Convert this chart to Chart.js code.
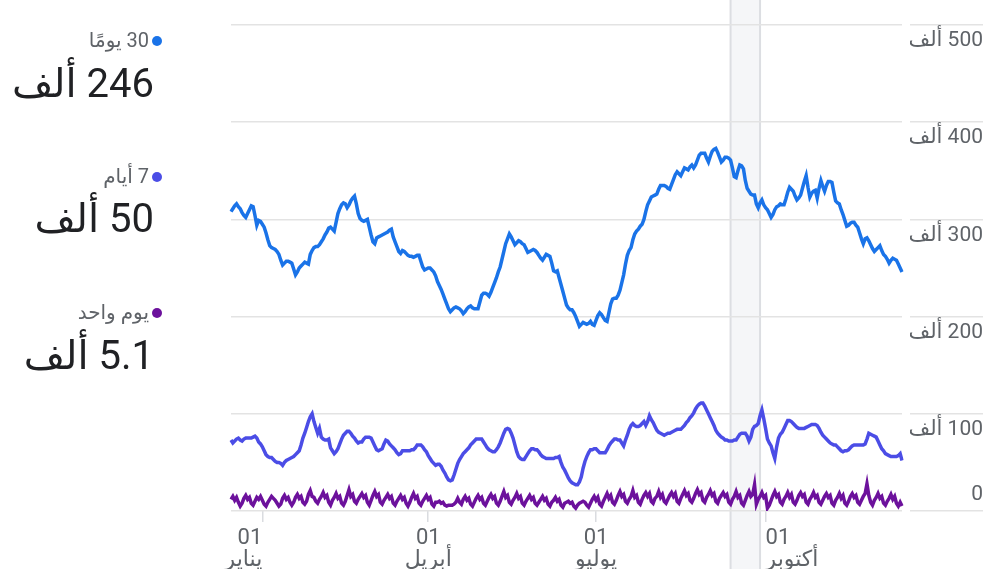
<!DOCTYPE html>
<html lang="ar">
<head>
<meta charset="utf-8">
<script src="https://cdn.jsdelivr.net/npm/chart.js@4.4.1/dist/chart.umd.min.js"></script>
<style>
html,body{margin:0;padding:0;background:#fff;overflow:hidden;}
#wrap{position:relative;width:983px;height:569px;}
#c{position:absolute;left:0;top:0;}
.leg{position:absolute;left:0;text-align:right;direction:rtl;font-family:Roboto,'DejaVu Sans',sans-serif;white-space:nowrap;}
.lab{width:149px;font-size:20px;color:#5f6368;line-height:20px;}
.val{width:154px;font-size:40px;color:#202124;line-height:44px;}
.dot{position:absolute;width:10px;height:10px;border-radius:50%;}
</style>
</head>
<body>
<div id="wrap">
<canvas id="c" width="983" height="569" dir="rtl"></canvas>
<div class="dot" style="left:152px;top:36px;background:#1a73e8"></div>
<div class="leg lab" style="top:30px">30 يومًا</div>
<div class="leg val" style="top:62px">246 ألف</div>
<div class="dot" style="left:152px;top:172px;background:#4b4de6"></div>
<div class="leg lab" style="top:166px">7 أيام</div>
<div class="leg val" style="top:197px">50 ألف</div>
<div class="dot" style="left:152px;top:308px;background:#6c119c"></div>
<div class="leg lab" style="top:302px">يوم واحد</div>
<div class="leg val" style="top:334px">5.1 ألف</div>
</div>
<script>
// values in thousands of users, one per day from 2022-12-15
const startDay = '2022-12-15';
const users30 = [
308,311,314,316,313,311,307,304,302,306,
310,314,313,304,294,299,298,295,292,286,
279,273,271,270,269,267,264,258,253,255,
257,257,256,255,249,243,246,250,252,254,
256,255,254,264,268,271,272,272,274,277,
280,284,287,291,292,290,288,297,306,311,
315,317,316,312,315,319,322,324,316,306,
301,299,298,299,300,292,284,277,275,281,
282,283,284,285,286,287,289,290,282,277,
272,267,265,268,267,265,263,262,262,261,
262,263,263,257,251,248,249,250,250,248,
246,242,236,232,228,223,218,213,208,205,
207,209,210,209,208,206,203,205,208,210,
211,209,208,208,208,215,222,224,224,223,
221,225,230,235,240,246,251,259,267,275,
280,285,282,278,274,276,278,277,275,274,
270,266,267,268,269,268,266,263,260,258,
261,264,263,262,255,247,246,247,240,233,
226,219,212,209,207,207,204,200,195,190,
192,194,193,192,193,195,192,191,196,201,
204,202,199,196,195,204,213,218,219,219,
222,227,235,243,254,263,268,271,279,285,
288,290,293,295,300,308,315,319,323,324,
325,326,331,335,335,335,334,332,331,336,
341,346,349,347,345,349,353,352,351,354,
356,353,356,361,366,368,368,368,363,359,
365,370,372,373,369,364,359,361,364,364,
363,361,353,344,343,350,356,355,352,340,
332,329,326,325,325,316,312,317,320,315,
312,310,306,302,305,310,313,314,316,315,
315,321,328,333,331,329,324,320,322,325,
332,339,345,333,323,327,329,330,322,332,
340,334,329,335,339,339,338,328,319,317,
316,310,305,299,293,294,296,297,297,294,
292,286,280,275,280,281,278,274,270,267,
269,271,273,268,264,262,259,255,258,260,
259,258,254,250,246
];
const users7 = [
73,70,72,74,75,73,72,74,75,75,
75,75,76,77,75,71,69,66,62,58,
56,55,55,53,51,50,50,49,47,50,
52,53,54,55,56,58,60,62,68,75,
80,86,92,97,100,92,86,80,85,76,
74,73,73,74,65,62,59,61,64,69,
74,78,80,82,82,80,77,75,72,70,
71,71,74,76,76,76,75,71,67,63,
62,63,64,69,73,72,69,67,65,63,
60,58,59,62,62,62,62,62,63,63,
65,68,68,68,66,63,61,57,54,51,
49,47,48,48,46,42,39,35,32,31,
32,37,43,49,53,56,59,61,63,65,
68,70,72,74,74,74,74,71,68,65,
63,62,61,61,63,66,70,75,80,84,
85,84,80,75,68,61,56,54,53,53,
56,59,62,64,64,63,63,61,58,56,
55,54,54,54,54,54,55,55,56,50,
45,42,38,34,31,29,28,27,27,30,
35,44,51,56,60,63,63,64,64,62,
60,60,60,60,63,67,70,72,74,74,
73,73,70,67,73,78,84,88,90,88,
87,87,88,90,92,88,92,98,94,91,
87,83,81,80,79,78,79,80,80,81,
82,83,84,84,84,86,88,91,93,96,
98,101,105,108,110,111,111,108,104,100,
96,92,88,83,80,78,76,75,73,73,
72,72,72,73,73,76,79,80,80,80,
77,72,76,84,87,88,90,98,104,95,
85,74,70,67,60,54,66,75,79,81,
85,89,93,93,92,90,88,86,85,85,
85,85,86,87,88,89,89,89,88,85,
81,78,76,74,72,70,69,68,68,66,
64,62,61,62,62,63,65,67,68,68,
68,68,68,68,69,74,80,79,78,77,
76,72,68,64,62,59,58,57,56,56,
56,56,57,59,52
];
const users1 = [
12,15,11,14,9,5,8, 13,16,12,14,8,6,10, 14,12,15,11,7,5,9, 12,15,13,11,8,5,7,
13,16,12,14,9,6,9, 14,17,13,15,9,7,10, 17,21,15,14,10,8,12, 15,19,14,16,9,6,11,
14,18,13,15,8,6,10, 16,22,15,17,10,8,12, 15,18,14,16,9,6,11, 16,20,15,17,9,7,11,
14,17,13,15,8,6,10, 13,16,12,14,8,5,9, 14,18,13,15,8,6,10, 13,16,12,14,7,5,9,
9,10,8,9,6,5,6, 6,6,7,9,13,9,7, 12,15,11,13,7,5,9, 13,16,12,14,8,6,10,
14,17,13,15,8,6,10, 15,20,14,16,9,7,11, 14,18,13,15,8,6,10, 13,16,12,14,8,6,9,
12,15,11,13,7,5,9, 11,14,10,12,6,4,8, 9,10,8,9,5,3,6, 8,9,10,9,6,4,8,
12,15,11,14,7,5,10, 14,18,13,16,9,7,11, 16,20,15,17,10,8,12, 15,21,14,16,9,7,12,
16,19,15,18,10,8,13, 15,20,14,17,10,8,12, 16,19,15,18,10,8,13, 17,21,16,18,11,9,13,
18,22,17,19,11,9,14, 17,21,16,18,10,8,13, 16,19,15,17,9,7,12, 15,20,14,16,8,6,11,
16,20,15,17,27,7,12, 15,19,14,16,3,6,11, 16,20,15,17,9,7,12, 15,19,14,17,9,7,11,
16,19,15,17,9,7,12, 15,19,14,16,9,7,11, 15,18,14,16,8,6,11, 14,18,13,16,8,6,10,
15,18,14,16,9,7,11, 15,18,28,16,9,6,11, 14,18,13,15,8,6,10, 13,17,12,15,8,5,9,
5.1
];
const tickDates = ['2023-01-01','2023-04-01','2023-07-01','2023-10-01'];
const tickDay = ['01','01','01','01'];
const tickMonth = ['يناير','أبريل','يوليو','أكتوبر'];
const yUnit = 'ألف';
const bandStart = '2023-09-12';
const bandEnd = '2023-09-28';

const days = [];
const t0 = Date.parse(startDay + 'T00:00:00Z');
for (let i = 0; i < users30.length; i++) days.push(new Date(t0 + i * 86400000).toISOString().slice(0, 10));

Chart.defaults.font.family = "Roboto, 'DejaVu Sans', sans-serif";

const bandPlugin = {
  id: 'band',
  beforeDraw(chart) {
    const xs = chart.scales.x, ctx = chart.ctx;
    const a = xs.getPixelForValue(days.indexOf(bandStart));
    const b = xs.getPixelForValue(days.indexOf(bandEnd));
    ctx.save();
    ctx.fillStyle = '#f5f6f8';
    ctx.fillRect(a, 0, b - a, chart.height);
    ctx.strokeStyle = '#dcdee2';
    ctx.lineWidth = 2;
    ctx.beginPath();
    ctx.moveTo(a, 0); ctx.lineTo(a, chart.height);
    ctx.moveTo(b, 0); ctx.lineTo(b, chart.height);
    ctx.stroke();
    ctx.restore();
    const items = xs.getLabelItems();
    if (items.length) {
      items[0].options.textAlign = 'right';
      items[items.length - 1].options.textAlign = 'left';
    }
  }
};

new Chart(document.getElementById('c'), {
  type: 'line',
  data: {
    labels: days,
    datasets: [
      {data: users30, borderColor: '#1a73e8', borderWidth: 3.5, pointRadius: 0, tension: 0, yAxisID: 'y'},
      {data: users7, borderColor: '#4b4de6', borderWidth: 3.5, pointRadius: 0, tension: 0, yAxisID: 'y'},
      {data: users1, borderColor: '#6c119c', borderWidth: 3.5, pointRadius: 0, tension: 0, yAxisID: 'y'}
    ]
  },
  options: {
    responsive: false,
    animation: false,
    devicePixelRatio: 1,
    layout: {padding: {left: 231, top: 25, right: 0, bottom: 0}},
    plugins: {legend: {display: false}, tooltip: {enabled: false}},
    scales: {
      x: {
        type: 'category',
        offset: false,
        afterBuildTicks: s => { s.ticks = tickDates.map(d => ({value: days.indexOf(d)})); },
        afterFit: s => { s.height = 58; s.paddingLeft = 0; s.paddingRight = 0; },
        grid: {drawOnChartArea: false, drawTicks: true, tickLength: 11, color: '#dadce0', lineWidth: 1.5},
        border: {display: false},
        ticks: {autoSkip: false, maxRotation: 0, minRotation: 0, padding: 5.5, color: '#5f6368',
          font: {size: 22, lineHeight: 1},
          callback: (v, i) => [tickDay[i], tickMonth[i]]}
      },
      ySpace: {
        type: 'linear', position: 'right', weight: 0,
        grid: {display: false}, border: {display: false}, ticks: {display: false},
        afterFit: s => { s.width = 8; s.paddingTop = 0; s.paddingBottom = 0; }
      },
      y: {
        type: 'linear', position: 'right', weight: 1, min: 0, max: 500,
        afterFit: s => { s.width = 73; s.paddingTop = 0; s.paddingBottom = 0; },
        grid: {color: '#e3e3e3', lineWidth: 1.5, drawTicks: true, tickLength: 80},
        border: {display: false},
        ticks: {stepSize: 100, padding: -74, crossAlign: 'far', color: '#5f6368',
          font: {size: 21, lineHeight: 32 / 21},
          callback: v => v === 0 ? ['0', ''] : ['', v + ' ' + yUnit]}
      }
    }
  },
  plugins: [bandPlugin]
});
</script>
</body>
</html>
